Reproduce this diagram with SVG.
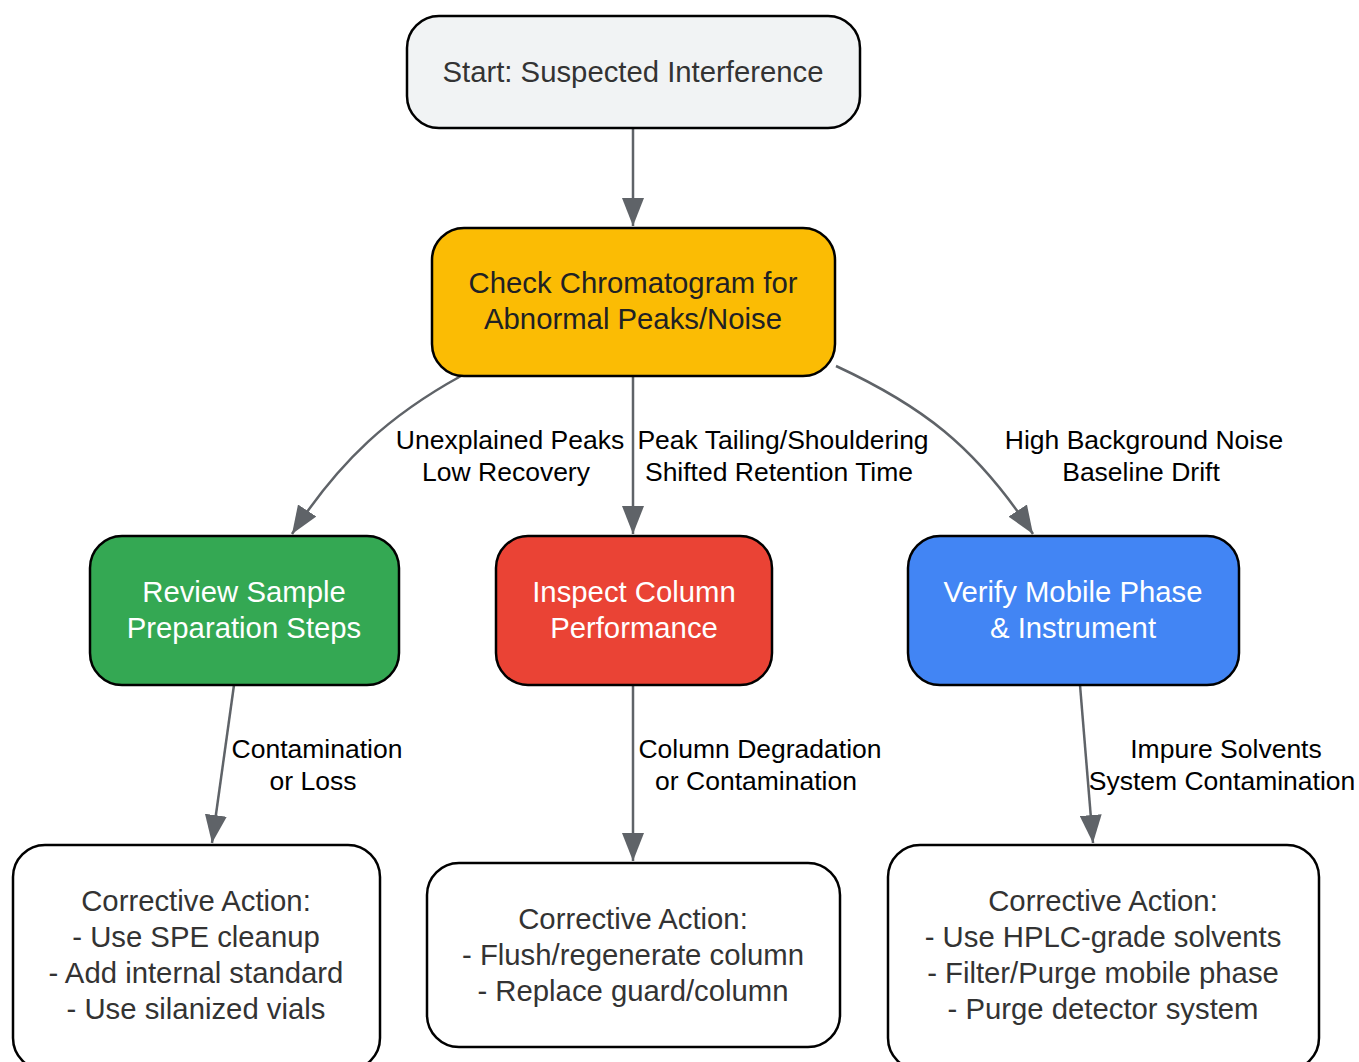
<svg xmlns="http://www.w3.org/2000/svg" width="1359" height="1062" viewBox="0 0 1359 1062">
<style>
.n{stroke:#000;stroke-width:2.5}
.t{font-family:"Liberation Sans",Arial,sans-serif;font-size:29.3px;text-anchor:middle;fill:#333}
.w{fill:#fff}
.d{fill:#202124}
.l{font-family:"Liberation Sans",Arial,sans-serif;font-size:26.5px;text-anchor:middle;fill:#000}
.e{fill:none;stroke:#5f6368;stroke-width:2.5}
</style>
<defs>
<marker id="a" markerUnits="userSpaceOnUse" markerWidth="30" markerHeight="22" refX="28" refY="11" orient="auto">
<path d="M0,0 L28,11 L0,22 z" fill="#5f6368"/>
</marker>
</defs>
<rect width="1359" height="1062" fill="#fff"/>
<g id="edges">
<path class="e" marker-end="url(#a)" d="M633,128 L633,226"/>
<path class="e" marker-end="url(#a)" d="M461,376 C390,415 340,460 292,534"/>
<path class="e" marker-end="url(#a)" d="M633,376 L633,534"/>
<path class="e" marker-end="url(#a)" d="M836,366 C920,405 975,445 1033,534"/>
<path class="e" marker-end="url(#a)" d="M234,685 L212,843"/>
<path class="e" marker-end="url(#a)" d="M633,685 L633,861"/>
<path class="e" marker-end="url(#a)" d="M1080,685 L1093,843"/>
</g>
<g id="edge-labels">
<text class="l" x="510" y="449">Unexplained Peaks</text>
<text class="l" x="506" y="481">Low Recovery</text>
<text class="l" x="783" y="449">Peak Tailing/Shouldering</text>
<text class="l" x="779" y="481">Shifted Retention Time</text>
<text class="l" x="1144" y="449">High Background Noise</text>
<text class="l" x="1141" y="481">Baseline Drift</text>
<text class="l" x="317" y="758">Contamination</text>
<text class="l" x="313" y="790">or Loss</text>
<text class="l" x="760" y="758">Column Degradation</text>
<text class="l" x="756" y="790">or Contamination</text>
<text class="l" x="1226" y="758">Impure Solvents</text>
<text class="l" x="1222" y="790">System Contamination</text>
</g>
<g id="start">
<rect class="n" x="407" y="16" width="453" height="112" rx="32" fill="#f1f3f4"/>
<text class="t" x="633" y="82">Start: Suspected Interference</text>
</g>
<g id="check">
<rect class="n" x="432" y="228" width="403" height="148" rx="32" fill="#fbbc04"/>
<text class="t d" x="633" y="293">Check Chromatogram for</text>
<text class="t d" x="633" y="329">Abnormal Peaks/Noise</text>
</g>
<g id="review">
<rect class="n" x="90" y="536" width="309" height="149" rx="32" fill="#34a853"/>
<text class="t w" x="244" y="602">Review Sample</text>
<text class="t w" x="244" y="638">Preparation Steps</text>
</g>
<g id="inspect">
<rect class="n" x="496" y="536" width="276" height="149" rx="32" fill="#ea4335"/>
<text class="t w" x="634" y="602">Inspect Column</text>
<text class="t w" x="634" y="638">Performance</text>
</g>
<g id="verify">
<rect class="n" x="908" y="536" width="331" height="149" rx="32" fill="#4285f4"/>
<text class="t w" x="1073" y="602">Verify Mobile Phase</text>
<text class="t w" x="1073" y="638">&amp; Instrument</text>
</g>
<g id="action1">
<rect class="n" x="13" y="845" width="367" height="225" rx="32" fill="#fff"/>
<text class="t" x="196" y="911">Corrective Action:</text>
<text class="t" x="196" y="947">- Use SPE cleanup</text>
<text class="t" x="196" y="983">- Add internal standard</text>
<text class="t" x="196" y="1019">- Use silanized vials</text>
</g>
<g id="action2">
<rect class="n" x="427" y="863" width="413" height="184" rx="32" fill="#fff"/>
<text class="t" x="633" y="929">Corrective Action:</text>
<text class="t" x="633" y="965">- Flush/regenerate column</text>
<text class="t" x="633" y="1001">- Replace guard/column</text>
</g>
<g id="action3">
<rect class="n" x="888" y="845" width="431" height="225" rx="32" fill="#fff"/>
<text class="t" x="1103" y="911">Corrective Action:</text>
<text class="t" x="1103" y="947">- Use HPLC-grade solvents</text>
<text class="t" x="1103" y="983">- Filter/Purge mobile phase</text>
<text class="t" x="1103" y="1019">- Purge detector system</text>
</g>
</svg>
